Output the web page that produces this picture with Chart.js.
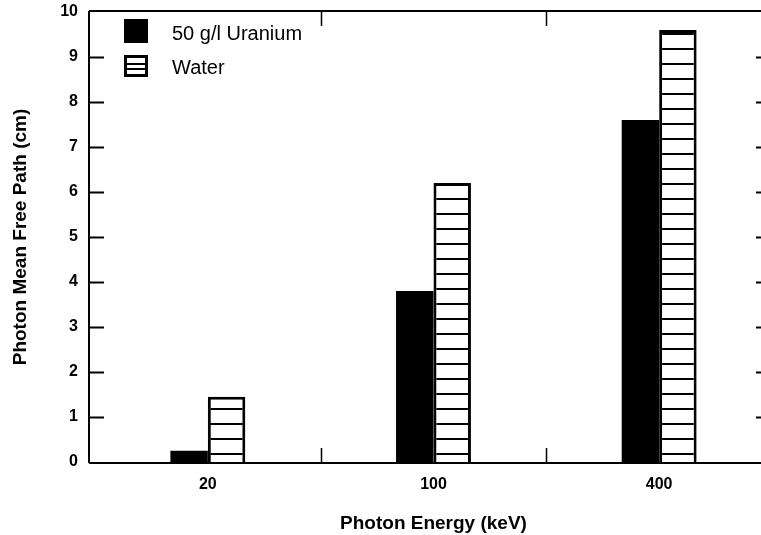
<!DOCTYPE html>
<html>
<head>
<meta charset="utf-8">
<script src="https://cdn.jsdelivr.net/npm/chart.js@4/dist/chart.umd.min.js"></script>
<style>
  html, body { margin: 0; padding: 0; background: #fff; overflow: hidden; }
  #wrap { position: relative; width: 773px; height: 535px; }
</style>
</head>
<body>
<div id="wrap"><canvas id="c"></canvas></div>
<script>
// ---- data ----
const categories = ['20', '100', '400'];
const uraniumValues = [0.25, 3.8, 7.6];
const waterValues = [1.45, 6.2, 9.6];
const seriesLabels = ['50 g/l Uranium', 'Water'];
const yTickValues = [0, 1, 2, 3, 4, 5, 6, 7, 8, 9, 10];

const FONT = '"Liberation Sans", Arial, Helvetica, sans-serif';

// horizontal hatch pattern for Water bars
function makeHatch() {
  const p = document.createElement('canvas');
  p.width = 8; p.height = 15;
  const g = p.getContext('2d');
  g.fillStyle = '#fff'; g.fillRect(0, 0, 8, 15);
  g.fillStyle = '#000'; g.fillRect(0, 3, 8, 2);
  return document.getElementById('c').getContext('2d').createPattern(p, 'repeat');
}
const hatch = makeHatch();

const framePlugin = {
  id: 'frame',
  afterDatasetsDraw(chart) {
    const ctx = chart.ctx;
    const x = chart.scales.x, y = chart.scales.y;
    const ca = chart.chartArea;
    const axisX = ca.left - 6;
    const topY = y.getPixelForValue(10) - 1;
    const botY = y.getPixelForValue(0) + 1;
    ctx.save();
    ctx.strokeStyle = '#000';
    ctx.lineWidth = 2;
    ctx.beginPath();
    ctx.moveTo(axisX, topY); ctx.lineTo(axisX, botY);
    ctx.moveTo(axisX, botY); ctx.lineTo(chart.width, botY);
    ctx.moveTo(axisX, topY); ctx.lineTo(chart.width, topY);
    ctx.moveTo(ca.right - 1, topY); ctx.lineTo(ca.right - 1, botY);
    // y ticks, inward on both sides
    yTickValues.forEach(v => {
      if (v === 0 || v === 10) return;
      const py = Math.round(y.getPixelForValue(v)) + 0.5;
      ctx.moveTo(axisX, py); ctx.lineTo(axisX + 15, py);
      ctx.moveTo(ca.right - 1, py); ctx.lineTo(ca.right - 16, py);
    });
    ctx.stroke();
    // x boundary ticks between categories
    ctx.lineWidth = 1.5;
    ctx.beginPath();
    for (let i = 0; i < categories.length - 1; i++) {
      const px = Math.round((x.getPixelForTick(i) + x.getPixelForTick(i + 1)) / 2) + 0.5;
      ctx.moveTo(px, botY); ctx.lineTo(px, botY - 15);
      ctx.moveTo(px, topY); ctx.lineTo(px, topY + 15);
    }
    ctx.stroke();
    ctx.restore();
  }
};

const legendPlugin = {
  id: 'innerLegend',
  afterDraw(chart) {
    const ctx = chart.ctx;
    ctx.save();
    ctx.font = '20px ' + FONT;
    ctx.fillStyle = '#000';
    ctx.textBaseline = 'middle';
    chart.data.datasets.forEach((ds, i) => {
      const bx = 124, by = 19 + i * 36, s = 24;
      if (i === 0) {
        ctx.fillStyle = '#000';
        ctx.fillRect(bx, by, s, s);
      } else {
        ctx.fillStyle = '#fff';
        ctx.fillRect(bx, by, s, s - 2);
        ctx.strokeStyle = '#000';
        ctx.lineWidth = 3;
        ctx.strokeRect(bx + 1.5, by + 1.5, s - 3, s - 5);
        ctx.lineWidth = 2;
        ctx.beginPath();
        ctx.moveTo(bx, by + 9); ctx.lineTo(bx + s, by + 9);
        ctx.moveTo(bx, by + 14); ctx.lineTo(bx + s, by + 14);
        ctx.stroke();
      }
      ctx.fillStyle = '#000';
      ctx.fillText(ds.label, 172, by + 15 - i * 2);
    });
    ctx.restore();
  }
};

new Chart(document.getElementById('c'), {
  type: 'bar',
  data: {
    labels: categories,
    datasets: [
      {
        label: seriesLabels[0],
        data: uraniumValues,
        backgroundColor: '#000',
        borderWidth: 0
      },
      {
        label: seriesLabels[1],
        data: waterValues,
        backgroundColor: hatch,
        borderColor: '#000',
        borderWidth: 3
      }
    ]
  },
  options: {
    responsive: true,
    maintainAspectRatio: false,
    animation: false,
    devicePixelRatio: 1,
    layout: { padding: { left: 0, top: 12, right: 1, bottom: 0 } },
    datasets: { bar: { categoryPercentage: 0.332, barPercentage: 1.0 } },
    plugins: {
      legend: { display: false },
      tooltip: { enabled: false }
    },
    scales: {
      x: {
        grid: { display: false, drawTicks: false },
        border: { display: false },
        ticks: {
          color: '#000',
          padding: 13,
          font: { family: FONT, size: 16, weight: 'bold' }
        },
        title: {
          display: true,
          text: 'Photon Energy (keV)',
          color: '#000',
          padding: { top: 0, bottom: 0 },
          font: { family: FONT, size: 19, weight: 'bold' }
        },
        afterFit(s) { s.height = 73; s.paddingLeft = 0; s.paddingRight = 0; }
      },
      y: {
        min: 0,
        max: 10,
        grid: { display: false, drawTicks: false },
        border: { display: false },
        afterBuildTicks(s) { s.ticks = yTickValues.map(v => ({ value: v })); },
        ticks: {
          color: '#000',
          padding: 17,
          font: { family: FONT, size: 16, weight: 'bold' }
        },
        title: {
          display: true,
          text: 'Photon Mean Free Path (cm)',
          color: '#000',
          padding: { top: 9, bottom: 0 },
          font: { family: FONT, size: 19, weight: 'bold' }
        },
        afterFit(s) { s.width = 95; s.paddingTop = 0; s.paddingBottom = 0; }
      }
    }
  },
  plugins: [framePlugin, legendPlugin]
});
</script>
</body>
</html>
